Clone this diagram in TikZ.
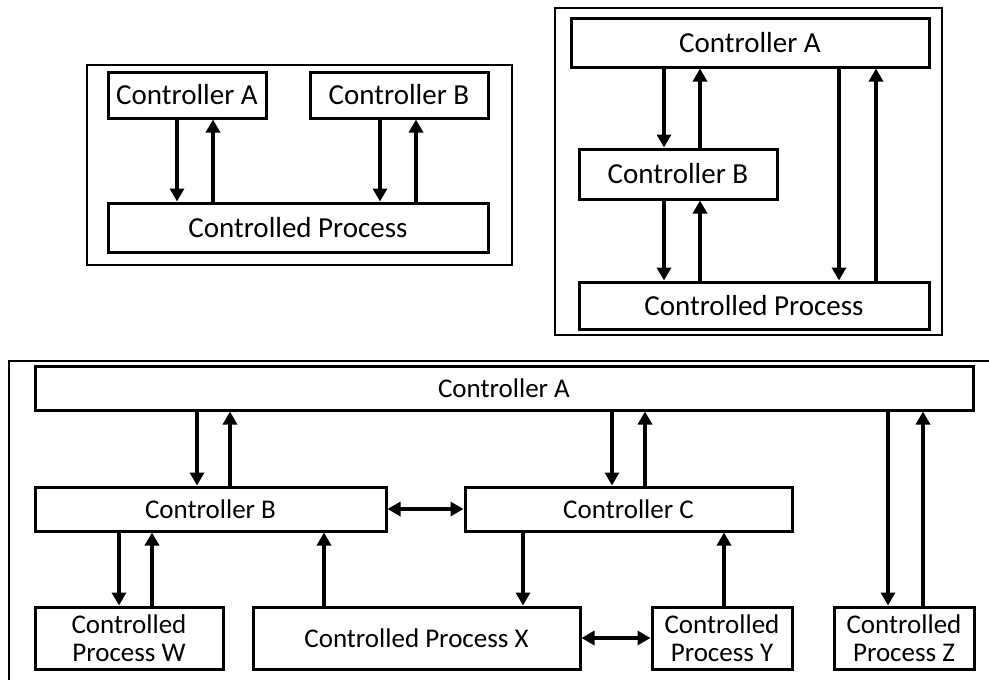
\documentclass[tikz,border=0pt]{standalone}
\usepackage{fontspec}
\setmainfont{Carlito}
\usetikzlibrary{arrows.meta}
\usetikzlibrary{calc}

\begin{document}
\begin{tikzpicture}[x=1pt, y=-1pt, every node/.style={draw, rectangle, line width=3pt,
inner sep=0pt, align=center, font=\fontsize{29}{29}\selectfont},
sig/.style={line width=3.8pt, -{Triangle[length=13pt, width=14pt]}},
twoway/.style={line width=3.8pt, {Triangle[length=13pt, width=14pt]}-{Triangle[length=13pt, width=14pt]}},
frame/.style={line width=1.4pt}, low/.style={font=\fontsize{27}{28}\selectfont}]
\useasboundingbox (0,0) rectangle (989,680);
\draw[frame] (87,65) rectangle (512,265);
\draw[frame] (555,8) rectangle (942,335);
\draw[frame] (9,361) rectangle (995,690);
\node[minimum width=158pt, minimum height=46pt] (CA1) at (187,95) {Controller A};
\node[minimum width=178pt, minimum height=46pt] (CB1) at (399,95) {Controller B};
\node[minimum width=380pt, minimum height=49pt] (P1) at (298,227.5) {Controlled Process};
\node[minimum width=358pt, minimum height=49pt] (CA2) at (750,42.5) {Controller A};
\node[minimum width=198pt, minimum height=50pt] (CB2) at (678,174) {Controller B};
\node[minimum width=350pt, minimum height=47pt] (P2) at (754,305.5) {Controlled Process};
\node[low, minimum width=938pt, minimum height=44pt] (CA3) at (504,388) {Controller A};
\node[low, minimum width=351pt, minimum height=44pt] (CB3) at (210.5,509) {Controller B};
\node[low, minimum width=327pt, minimum height=44pt] (CC3) at (628.5,509) {Controller C};
\node[low, minimum width=188pt, minimum height=62pt] (W3) at (129,638) {Controlled\\Process W};
\node[low, minimum width=327pt, minimum height=62pt] (X3) at (416.5,638) {Controlled Process X};
\node[low, minimum width=140pt, minimum height=62pt] (Y3) at (722,638) {Controlled\\Process Y};
\node[low, minimum width=140pt, minimum height=62pt] (Z3) at (904,638) {Controlled\\Process Z};
\foreach \c/\a/\b in {177/CA1/P1, 380/CB1/P1, 664/CA2/CB2, 664/CB2/P2, 839/CA2/P2,
197/CA3/CB3, 612/CA3/CC3, 888/CA3/Z3, 119/CB3/W3, 523/CC3/X3}{
\draw[sig] let \p1 = (\a.south), \p2 = (\b.north) in (\c,\y1) -- (\c,\y2);}
\foreach \c/\a/\b in {213/P1/CA1, 416/P1/CB1, 700/CB2/CA2, 700/P2/CB2, 876/P2/CA2,
230/CB3/CA3, 645/CC3/CA3, 923/Z3/CA3, 152/W3/CB3, 324/X3/CB3, 724/Y3/CC3}{
\draw[sig] let \p1 = (\a.north), \p2 = (\b.south) in (\c,\y1) -- (\c,\y2);}
\draw[twoway] (CB3) -- (CC3);
\draw[twoway] (X3) -- (Y3);
\end{tikzpicture}
\end{document}
